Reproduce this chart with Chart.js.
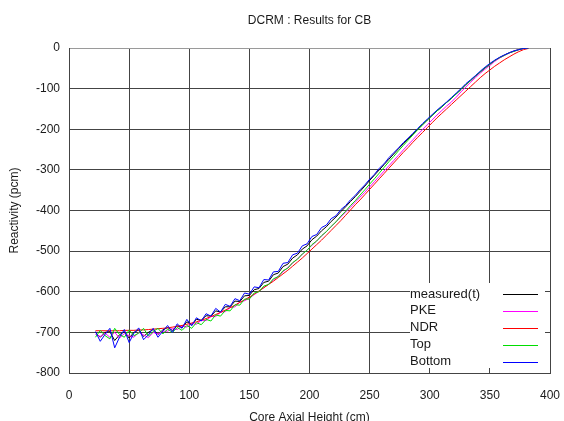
<!DOCTYPE html>
<html><head><meta charset="utf-8">
<script src="https://cdn.jsdelivr.net/npm/chart.js@4/dist/chart.umd.min.js"></script>
<style>html,body{margin:0;padding:0;background:#fff}</style>
</head><body>
<canvas id="c" width="564" height="421"></canvas>
<script>
// Core axial height (cm)
const heights = [22,26,30,34,38,42,46,50,54,58,62,66,70,74,78,82,86,90,94,98,102,106,110,114,118,122,126,130,134,138,142,146,150,154,158,162,166,170,174,178,182,186,190,194,198,202,206,210,214,218,222,226,230,234,238,242,246,250,254,258,262,266,270,274,278,282,286,290,294,298,302,306,310,314,318,322,326,330,334,338,342,346,350,354,358,362,366,370,374,378,382];
const measuredVals = [-700,-712,-700,-698,-720,-706,-698,-714,-700,-694,-710,-700,-693,-705,-694,-688,-695,-684,-688,-674,-680,-668,-670,-659,-660,-647,-650,-637,-637,-623,-624,-610,-609,-595,-592,-577,-574,-558,-554,-538,-532,-517,-509,-495,-487,-472,-463,-450,-440,-427,-416,-403,-391,-378,-366,-353,-340,-326,-313,-300,-287,-274,-261,-248,-236,-224,-212,-200,-189,-177,-166,-155,-145,-134,-124,-113,-102,-90,-80,-69,-59,-49,-40,-31,-24,-18,-12,-8,-4,-1,0];
const pkeVals = [-705,-710,-702,-712,-700,-714,-703,-708,-712,-700,-706,-713,-700,-704,-697,-697,-690,-693,-684,-687,-678,-680,-670,-671,-661,-661,-650,-649,-639,-637,-626,-622,-616,-607,-599,-590,-581,-571,-561,-551,-540,-530,-519,-508,-497,-486,-475,-463,-452,-440,-428,-416,-404,-392,-380,-367,-355,-342,-329,-316,-303,-290,-277,-264,-251,-238,-226,-213,-201,-189,-177,-165,-154,-143,-133,-121,-108,-96,-84,-73,-62,-52,-43,-33,-25,-18,-12,-7,-4,-1,0];
const ndrVals = [-696,-696,-696,-696,-696,-696,-695,-695,-695,-694,-694,-693,-692,-691,-690,-689,-687,-685,-683,-680,-677,-674,-670,-666,-661,-656,-651,-645,-639,-633,-626,-620,-613,-606,-598,-590,-582,-574,-565,-556,-547,-537,-527,-517,-506,-495,-484,-473,-461,-449,-437,-425,-412,-399,-386,-374,-361,-348,-335,-322,-309,-296,-283,-270,-257,-245,-232,-220,-208,-196,-184,-172,-161,-150,-139,-128,-117,-106,-95,-84,-73,-63,-54,-45,-37,-29,-22,-15,-9,-4,-1];
const topVals = [-712,-695,-708,-716,-690,-705,-712,-694,-708,-702,-690,-709,-698,-690,-704,-692,-700,-688,-695,-683,-690,-676,-681,-668,-672,-657,-660,-646,-647,-632,-633,-618,-618,-603,-600,-586,-582,-568,-563,-548,-542,-528,-520,-507,-498,-484,-475,-462,-452,-439,-428,-414,-402,-388,-376,-362,-349,-335,-322,-308,-294,-280,-267,-253,-240,-227,-214,-201,-189,-177,-166,-155,-145,-134,-124,-113,-102,-90,-80,-69,-59,-49,-40,-31,-24,-18,-12,-8,-4,-1,0];
const bottomVals = [-698,-722,-705,-690,-738,-712,-693,-725,-702,-689,-718,-706,-690,-712,-697,-683,-700,-679,-690,-668,-684,-664,-672,-654,-660,-641,-650,-631,-636,-617,-622,-603,-606,-588,-590,-570,-571,-551,-550,-530,-528,-509,-505,-487,-482,-464,-459,-442,-436,-420,-413,-398,-388,-374,-363,-349,-337,-323,-311,-296,-285,-270,-258,-246,-233,-222,-210,-198,-186,-175,-164,-153,-143,-133,-122,-111,-100,-88,-78,-68,-57,-47,-38,-30,-23,-17,-12,-7,-4,-1,0];

const seriesNames = ['measured(t)','PKE','NDR','Top','Bottom'];
const seriesValues = [measuredVals, pkeVals, ndrVals, topVals, bottomVals];
const seriesColors = ['#000000','#ff00ff','#ff0000','#00dd00','#0000ff'];

const xTicks = [0,50,100,150,200,250,300,350,400];
const yTicks = [-800,-700,-600,-500,-400,-300,-200,-100,0];

const FONT = '"Liberation Sans", Arial, Helvetica, sans-serif';
const TXT = '#1a1a1a';

const datasets = seriesNames.map((name, i) => ({
  label: name,
  data: heights.map((h, k) => ({x: h, y: seriesValues[i][k]})),
  borderColor: seriesColors[i],
  borderWidth: 1,
  pointRadius: 0,
  tension: 0,
  fill: false,
  order: seriesNames.length - i
}));

const insideLegend = {
  id: 'insideLegend',
  beforeDatasetsDraw(chart) {
    const {ctx, chartArea: a} = chart;
    ctx.save();
    ctx.fillStyle = '#ffffff';
    ctx.fillRect(a.right - 140, a.bottom - 90, 135, 85);
    ctx.restore();
  },
  afterDatasetsDraw(chart) {
    const {ctx, chartArea: a} = chart;
    ctx.save();
    ctx.font = '13px ' + FONT;
    ctx.textBaseline = 'middle';
    ctx.textAlign = 'left';
    chart.data.datasets.forEach((ds, i) => {
      const yy = a.bottom - 79 + i * 16.9;
      ctx.fillStyle = TXT;
      ctx.fillText(ds.label, a.right - 140, yy);
      ctx.strokeStyle = ds.borderColor;
      ctx.lineWidth = 1;
      ctx.beginPath();
      ctx.moveTo(a.right - 47, Math.round(yy) + 0.5);
      ctx.lineTo(a.right - 12, Math.round(yy) + 0.5);
      ctx.stroke();
    });
    ctx.restore();
  }
};

new Chart(document.getElementById('c'), {
  type: 'line',
  data: {datasets},
  plugins: [insideLegend],
  options: {
    responsive: false,
    animation: false,
    devicePixelRatio: 1,
    layout: {padding: {left: 0, right: 14, top: 0, bottom: 0}},
    plugins: {
      legend: {display: false},
      tooltip: {enabled: false},
      title: {
        display: true, text: 'DCRM : Results for CB', fullSize: false,
        color: TXT, font: {family: FONT, size: 12, weight: 'normal'},
        padding: {top: 13, bottom: 20.6}
      }
    },
    scales: {
      x: {
        type: 'linear', min: 0, max: 400,
        afterBuildTicks: s => { s.ticks = xTicks.map(v => ({value: v})); },
        afterFit: s => { s.height = 48; s.paddingLeft = 0; s.paddingRight = 0; },
        ticks: {color: TXT, font: {family: FONT, size: 12}, padding: 15, maxRotation: 0},
        grid: {color: '#444444', lineWidth: 1, drawTicks: false},
        border: {color: '#444444'},
        title: {display: true, text: 'Core Axial Height (cm)', color: TXT, font: {family: FONT, size: 12}, padding: {top: 0, bottom: -4}}
      },
      y: {
        type: 'linear', min: -800, max: 0,
        afterBuildTicks: s => { s.ticks = yTicks.map(v => ({value: v})); },
        afterFit: s => { s.width = 69; },
        ticks: {color: TXT, font: {family: FONT, size: 12}, padding: 9},
        grid: {color: c => (c.tick && c.tick.value === 0) ? '#9a9a9a' : '#444444', lineWidth: 1, drawTicks: false},
        border: {color: '#444444'},
        title: {display: true, text: 'Reactivity (pcm)', color: TXT, font: {family: FONT, size: 12}, padding: {top: 7, bottom: 0}}
      }
    }
  }
});
</script>
</body></html>
